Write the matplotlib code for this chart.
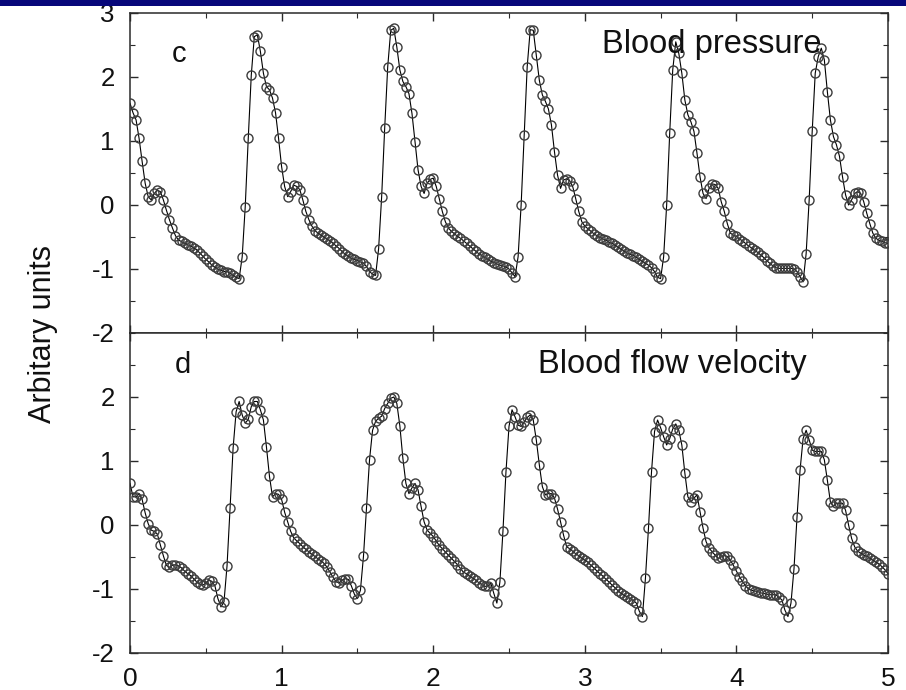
import numpy as np
import matplotlib
matplotlib.use('Agg')
import matplotlib.pyplot as plt
from matplotlib.patches import Rectangle
from matplotlib.ticker import MultipleLocator

plt.rcParams['font.family'] = ['Liberation Sans', 'DejaVu Sans']
plt.rcParams['axes.unicode_minus'] = False

# %% DATA (one sample every 0.02 s from 0 to 5 s)

dt = 0.02

# Blood pressure (panel c)
pressure = [
    1.59, 1.44, 1.33, 1.04, 0.68, 0.34, 0.13, 0.08, 0.18, 0.23,
    0.21, 0.08, -0.08, -0.23, -0.36, -0.48, -0.55, -0.57, -0.60, -0.62,
    -0.64, -0.67, -0.70, -0.75, -0.80, -0.85, -0.89, -0.94, -0.97, -1.00,
    -1.02, -1.04, -1.04, -1.07, -1.10, -1.13, -1.15, -0.81, -0.03, 1.04,
    2.03, 2.63, 2.66, 2.40, 2.06, 1.85, 1.80, 1.67, 1.44, 1.04,
    0.60, 0.29, 0.13, 0.21, 0.31, 0.29, 0.24, 0.08, -0.10, -0.23,
    -0.33, -0.40, -0.44, -0.47, -0.50, -0.53, -0.56, -0.60, -0.64, -0.68,
    -0.73, -0.77, -0.80, -0.83, -0.85, -0.87, -0.89, -0.91, -0.96, -1.04,
    -1.08, -1.10, -0.68, 0.13, 1.20, 2.16, 2.73, 2.76, 2.47, 2.11,
    1.93, 1.85, 1.74, 1.43, 0.99, 0.55, 0.29, 0.18, 0.34, 0.40,
    0.42, 0.29, 0.10, -0.10, -0.26, -0.36, -0.41, -0.45, -0.49, -0.52,
    -0.56, -0.60, -0.64, -0.68, -0.72, -0.76, -0.79, -0.82, -0.85, -0.88,
    -0.90, -0.92, -0.94, -0.95, -0.97, -1.00, -1.06, -1.12, -0.81, 0.00,
    1.09, 2.16, 2.74, 2.73, 2.34, 1.95, 1.72, 1.62, 1.50, 1.25,
    0.83, 0.47, 0.26, 0.39, 0.41, 0.38, 0.29, 0.10, -0.10, -0.26,
    -0.33, -0.37, -0.41, -0.45, -0.48, -0.51, -0.53, -0.55, -0.58, -0.60,
    -0.63, -0.66, -0.69, -0.72, -0.75, -0.77, -0.79, -0.82, -0.85, -0.88,
    -0.91, -0.94, -0.98, -1.04, -1.13, -1.15, -0.81, 0.00, 1.12, 2.11,
    2.55, 2.37, 2.06, 1.64, 1.41, 1.30, 1.15, 0.81, 0.44, 0.18,
    0.10, 0.26, 0.33, 0.32, 0.26, 0.05, -0.10, -0.29, -0.44, -0.47,
    -0.49, -0.53, -0.56, -0.60, -0.64, -0.67, -0.71, -0.74, -0.78, -0.82,
    -0.87, -0.91, -0.95, -0.98, -0.99, -0.99, -0.99, -0.99, -0.99, -1.00,
    -1.04, -1.12, -1.20, -0.76, 0.08, 1.15, 2.06, 2.32, 2.45, 2.27,
    1.77, 1.33, 1.07, 0.94, 0.76, 0.44, 0.16, 0.00, 0.08, 0.18,
    0.21, 0.18, 0.05, -0.13, -0.29, -0.44, -0.52, -0.55, -0.57, -0.59,
    -0.60,
]

# Blood flow velocity (panel d)
velocity = [
    0.65, 0.44, 0.44, 0.49, 0.40, 0.19, 0.02, -0.08, -0.10, -0.14,
    -0.31, -0.48, -0.63, -0.66, -0.63, -0.62, -0.64, -0.67, -0.72, -0.76,
    -0.79, -0.84, -0.89, -0.92, -0.94, -0.91, -0.86, -0.88, -0.95, -1.15,
    -1.28, -1.20, -0.64, 0.26, 1.20, 1.77, 1.93, 1.72, 1.59, 1.65,
    1.85, 1.93, 1.93, 1.80, 1.64, 1.22, 0.76, 0.44, 0.49, 0.48,
    0.40, 0.20, 0.05, -0.10, -0.20, -0.25, -0.29, -0.34, -0.38, -0.42,
    -0.46, -0.49, -0.53, -0.56, -0.60, -0.66, -0.74, -0.82, -0.89, -0.90,
    -0.86, -0.84, -0.85, -0.95, -1.08, -1.15, -1.02, -0.49, 0.26, 1.02,
    1.48, 1.62, 1.67, 1.70, 1.82, 1.90, 1.98, 2.00, 1.90, 1.55,
    1.04, 0.65, 0.49, 0.58, 0.65, 0.55, 0.29, 0.05, -0.08, -0.13,
    -0.18, -0.25, -0.32, -0.37, -0.42, -0.47, -0.52, -0.57, -0.62, -0.68,
    -0.74, -0.76, -0.80, -0.83, -0.86, -0.90, -0.93, -0.96, -0.95, -0.91,
    -1.07, -1.22, -0.89, -0.10, 0.83, 1.54, 1.80, 1.69, 1.56, 1.54,
    1.61, 1.68, 1.72, 1.64, 1.33, 0.94, 0.60, 0.47, 0.49, 0.49,
    0.42, 0.25, 0.05, -0.16, -0.34, -0.37, -0.41, -0.45, -0.48, -0.52,
    -0.55, -0.58, -0.63, -0.67, -0.72, -0.76, -0.80, -0.85, -0.89, -0.94,
    -0.98, -1.03, -1.07, -1.10, -1.12, -1.15, -1.18, -1.22, -1.35, -1.43,
    -0.83, -0.05, 0.83, 1.46, 1.64, 1.52, 1.38, 1.25, 1.35, 1.50,
    1.58, 1.48, 1.25, 0.81, 0.44, 0.36, 0.42, 0.47, 0.21, -0.05,
    -0.26, -0.36, -0.42, -0.47, -0.52, -0.50, -0.48, -0.49, -0.55, -0.63,
    -0.72, -0.81, -0.88, -0.95, -1.00, -1.02, -1.03, -1.04, -1.06, -1.07,
    -1.08, -1.09, -1.09, -1.09, -1.13, -1.17, -1.33, -1.43, -1.22, -0.68,
    0.13, 0.86, 1.35, 1.48, 1.33, 1.17, 1.15, 1.15, 1.15, 1.02,
    0.70, 0.36, 0.29, 0.34, 0.34, 0.34, 0.23, 0.00, -0.21, -0.34,
    -0.41, -0.44, -0.47, -0.49, -0.52, -0.55, -0.58, -0.61, -0.65, -0.70,
    -0.76,
]

t_p = np.arange(len(pressure)) * dt
t_v = np.arange(len(velocity)) * dt

panel_letters = ['c', 'd']
panel_titles = ['Blood pressure', 'Blood flow velocity']
xticks = [0, 1, 2, 3, 4, 5]

# %% PLOT

W, H = 906, 690
fig = plt.figure(figsize=(W / 100, H / 100), dpi=100)

left = 130 / W
width = (888 - 130) / W
ax1 = fig.add_axes([left, 1 - 333 / H, width, 320 / H])
ax2 = fig.add_axes([left, 1 - 653 / H, width, 320 / H])

ink = '#2a2a2a'
for ax, t, y in [(ax1, t_p, pressure), (ax2, t_v, velocity)]:
    ax.plot(t, y, '-', color='k', lw=0.8, zorder=2)
    ax.plot(t, y, 'o', ms=6.5, mfc='none', mec='#3c3c3c', mew=1.0, zorder=3)
    ax.set_xlim(0, 5)
    ax.set_ylim(-2, 3)
    ax.xaxis.set_minor_locator(MultipleLocator(0.5))
    ax.yaxis.set_minor_locator(MultipleLocator(0.5))
    ax.tick_params(which='both', direction='in', top=True, right=True,
                   colors=ink, labelcolor='#111111')
    ax.tick_params(which='major', length=6, width=1)
    ax.tick_params(which='minor', length=3.5, width=0.8)
    ax.tick_params(axis='y', labelsize=18.5, pad=11)
    ax.tick_params(axis='x', labelsize=19, pad=10)
    for s in ax.spines.values():
        s.set_color(ink)
        s.set_linewidth(1.1)

ax1.set_xticks(xticks)
ax1.set_xticklabels([])
ax1.set_yticks([-2, -1, 0, 1, 2, 3])
ax2.set_xticks(xticks)
ax2.set_yticks([-2, -1, 0, 1, 2])

# panel letters and titles
ax1.text(0.055, 0.847, panel_letters[0], transform=ax1.transAxes, fontsize=21, color='#111111')
ax2.text(0.059, 0.875, panel_letters[1], transform=ax2.transAxes, fontsize=21, color='#111111')
ax1.text(0.6227, 0.875, panel_titles[0], transform=ax1.transAxes, fontsize=23.5, color='#111111')
ax2.text(0.538, 0.875, panel_titles[1], transform=ax2.transAxes, fontsize=23.5, color='#111111')

fig.text(43 / W, 1 - 334 / H, 'Arbitary units', rotation=90, ha='center', va='center',
         fontsize=22, color='#111111')

# slide header strip at the very top
fig.patches.append(Rectangle((0, 1 - 6 / H), 1, 6 / H, transform=fig.transFigure,
                             facecolor='#07077a', edgecolor='none', zorder=10))

fig.savefig('out.png', dpi=100, facecolor='white')
